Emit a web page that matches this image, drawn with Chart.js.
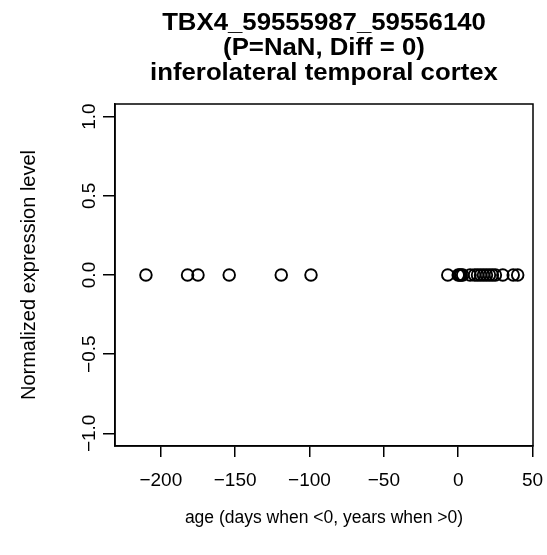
<!DOCTYPE html>
<html>
<head>
<meta charset="utf-8">
<script src="https://cdn.jsdelivr.net/npm/chart.js@4.4.1/dist/chart.umd.min.js"></script>
<style>
  body { margin: 0; background: #fff; }
</style>
</head>
<body>
<canvas id="myChart" width="547" height="555"></canvas>
<script>
// title lines
const titleLines = ['TBX4_59555987_59556140', '(P=NaN, Diff = 0)', 'inferolateral temporal cortex']

// ages of the samples (days when <0, years when >0)
const ages = [-210, -182, -175, -154, -119, -99, -7, 0, 1, 2, 3, 8, 11, 13, 15, 17, 19, 21, 23, 25, 30, 37, 40]
// normalized expression, all flat at zero
const expression = [0, 0, 0, 0, 0, 0, 0, 0, 0, 0, 0, 0, 0, 0, 0, 0, 0, 0, 0, 0, 0, 0, 0]

// tick values and labels
const xTicks = [-200, -150, -100, -50, 0, 50]
const xTickLabels = ['\u2212200', '\u2212150', '\u2212100', '\u221250', '0', '50']
const yTicks = [-1, -0.5, 0, 0.5, 1]
const yTickLabels = ['\u22121.0', '\u22120.5', '0.0', '0.5', '1.0']

const fontFamily = '"Liberation Sans", Arial, Helvetica, sans-serif'

// make the points for the scatter
let points = []
for (let i = 0; i < ages.length; i++) {
    points.push({ x: ages[i], y: expression[i] })
}

// draws the box, title and the rotated y labels like R does
const rStyle = {
    id: 'rStyle',
    afterDraw(chart) {
        const ctx = chart.ctx
        const area = chart.chartArea
        ctx.save()
        ctx.strokeStyle = '#000'
        ctx.lineWidth = 1.5
        ctx.strokeRect(area.left, area.top, area.right - area.left, area.bottom - area.top)

        // title (R's bold font is a bit wider than Liberation, so stretch it a little)
        ctx.fillStyle = '#000'
        ctx.textAlign = 'center'
        ctx.textBaseline = 'alphabetic'
        ctx.font = 'bold 23px ' + fontFamily
        const cx = (area.left + area.right) / 2
        titleLines.forEach((line, i) => {
            ctx.save()
            ctx.translate(cx, 30 + i * 25)
            ctx.scale(1.12, 1)
            ctx.fillText(line, 0, 0)
            ctx.restore()
        })

        // y tick labels, rotated
        const yScale = chart.scales.y
        ctx.font = '19px ' + fontFamily
        ctx.textBaseline = 'middle'
        yTicks.forEach((v, i) => {
            ctx.save()
            ctx.translate(90, yScale.getPixelForValue(v))
            ctx.rotate(-Math.PI / 2)
            ctx.fillText(yTickLabels[i], 0, 0)
            ctx.restore()
        })
        ctx.restore()
    }
}

let myChart = document.querySelector('#myChart').getContext('2d')
let scatterChart = new Chart(myChart, {
    type: 'scatter',
    data: {
        datasets: [{
            label: 'expression',
            data: points,
            pointStyle: 'circle',
            pointRadius: 5.8,
            pointBorderWidth: 1.9,
            pointBackgroundColor: 'rgba(0,0,0,0)',
            pointBorderColor: '#000',
        }]
    },
    options: {
        responsive: false,
        animation: false,
        layout: { padding: { top: 104, right: 14, left: 0, bottom: 0 } },
        plugins: {
            legend: { display: false },
            tooltip: { enabled: false },
        },
        scales: {
            x: {
                type: 'linear',
                min: -230.8,
                max: 50.3,
                afterBuildTicks: (scale) => { scale.ticks = xTicks.map(v => ({ value: v })) },
                afterFit: (scale) => {
                    scale.height = 109
                    scale.paddingLeft = 0
                    scale.paddingRight = 0
                },
                ticks: {
                    color: '#000',
                    font: { family: fontFamily, size: 19 },
                    padding: 12,
                    maxRotation: 0,
                    callback: (v) => xTickLabels[xTicks.indexOf(v)],
                },
                grid: { drawOnChartArea: false, drawTicks: true, tickLength: 11, color: '#000', lineWidth: 1.5 },
                border: { display: true, color: '#000', width: 1.5 },
                title: {
                    display: true,
                    text: 'age (days when <0, years when >0)',
                    color: '#000',
                    font: { family: fontFamily, size: 17.5 },
                    padding: { top: 0, bottom: 26 },
                },
            },
            y: {
                type: 'linear',
                min: -1.08,
                max: 1.08,
                afterBuildTicks: (scale) => { scale.ticks = yTicks.map(v => ({ value: v })) },
                afterFit: (scale) => { scale.width = 115 },
                ticks: { display: false },
                grid: { drawOnChartArea: false, drawTicks: true, tickLength: 12, color: '#000', lineWidth: 1.5 },
                border: { display: true, color: '#000', width: 1.5 },
                title: {
                    display: true,
                    text: 'Normalized expression level',
                    color: '#000',
                    font: { family: fontFamily, size: 20 },
                    padding: { top: 17, bottom: 0 },
                },
            },
        },
    },
    plugins: [rStyle],
})
</script>
</body>
</html>
